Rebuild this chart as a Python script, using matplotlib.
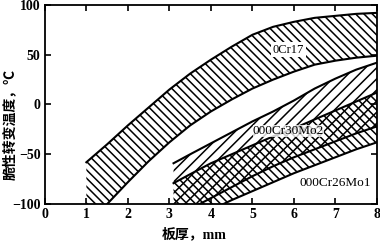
import matplotlib
matplotlib.use("Agg")
import matplotlib.pyplot as plt

# band boundaries (thickness in mm, temperature in C)
cr17_x = [1.0, 1.5, 2.0, 2.5, 3.0, 3.5, 4.0, 4.5, 5.0, 5.5, 6.0, 6.5, 7.0, 7.5, 8.0]
cr17_hi = [-58, -40, -21, -3, 15, 31, 45, 58, 70, 78, 83, 87, 89, 91, 92]
cr17_lo = [-120, -100, -78, -57, -38, -21, -7, 5, 16, 25, 33, 40, 44, 47, 49]

mo_x = [3.1, 3.5, 4.0, 4.5, 5.0, 5.5, 6.0, 6.5, 7.0, 7.5, 8.0]
mo2_hi = [-59, -50, -39, -28, -17, -7, 4, 16, 26, 35, 42]
mo2_lo = [-115, -105, -94, -83, -72, -62, -53, -45, -37, -29, -22]
mo1_hi = [-79, -70, -59, -50, -41, -32, -24, -15, -6, 3, 12]
mo1_lo = [-128, -118, -106, -96, -87, -78, -69, -61, -53, -45, -38]

x_ticks = [0, 1, 2, 3, 4, 5, 6, 7, 8]
y_ticks = [-100, -50, 0, 50, 100]

plt.rcParams["font.family"] = ["Liberation Serif", "Noto Sans CJK SC"]
plt.rcParams["hatch.linewidth"] = 1.1
plt.rcParams["hatch.color"] = "black"

fig = plt.figure(figsize=(3.8, 2.45), dpi=100)
ax = fig.add_axes([0.118, 0.167, 0.874, 0.813])

ax.fill_between(cr17_x, cr17_lo, cr17_hi, facecolor="none", edgecolor="black",
                hatch="\\\\\\\\", linewidth=0)
ax.fill_between(mo_x, mo2_lo, mo2_hi, facecolor="none", edgecolor="black",
                hatch="///", linewidth=0)
ax.fill_between(mo_x, mo1_lo, mo1_hi, facecolor="none", edgecolor="black",
                hatch="\\\\\\\\", linewidth=0)

lw = 1.5
ax.plot(cr17_x, cr17_hi, color="black", lw=lw)
ax.plot(cr17_x, cr17_lo, color="black", lw=lw)
ax.plot(mo_x, mo2_hi, color="black", lw=lw)
ax.plot(mo_x, mo2_lo, color="black", lw=lw)
ax.plot(mo_x, mo1_hi, color="black", lw=lw)
ax.plot(mo_x, mo1_lo, color="black", lw=lw)

box = dict(facecolor="white", edgecolor="none", pad=1.0)
ax.text(5.87, 55, "0Cr17", ha="center", va="center", fontsize=9, bbox=box)
ax.text(5.87, -27, "000Cr30Mo2", ha="center", va="center", fontsize=9.5,
        bbox=dict(facecolor="white", edgecolor="none", pad=0.0, alpha=0.8))
ax.text(6.99, -79, "000Cr26Mo1", ha="center", va="center", fontsize=9.5, bbox=box)

ax.set_xlim(0, 8)
ax.set_ylim(-100, 100)
ax.set_xticks(x_ticks)
ax.set_yticks(y_ticks)
ax.set_xticklabels([str(v) for v in x_ticks], fontweight="bold")
ax.set_yticklabels([str(v).replace("-", "\u2212") for v in y_ticks], fontweight="bold")
ax.tick_params(direction="in", top=True, right=True, length=4, width=1.2,
               labelsize=10, pad=3)
for side in ax.spines.values():
    side.set_linewidth(1.3)

ax.set_xlabel("板厚，mm", fontsize=10, fontweight="bold")
ax.xaxis.set_label_coords(0.45, -0.115)
ax.set_ylabel("脆性转变温度，℃", fontsize=10, fontweight="bold")
ax.yaxis.set_label_coords(-0.085, 0.4)

fig.savefig("out.png", dpi=100)
